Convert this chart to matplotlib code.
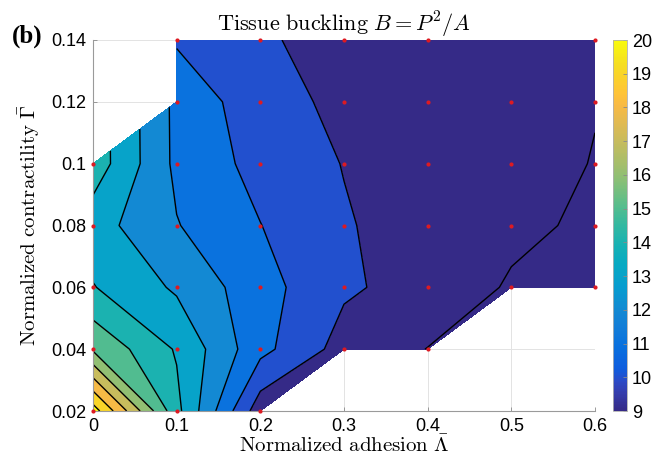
import numpy as np
import matplotlib
matplotlib.use("Agg")
import matplotlib.pyplot as plt
from matplotlib.colors import LinearSegmentedColormap, Normalize
from matplotlib.cm import ScalarMappable

plt.rcParams["mathtext.fontset"] = "cm"

# grid of simulations
adhesion = [0.0, 0.1, 0.2, 0.3, 0.4, 0.5, 0.6]
contractility = [0.02, 0.04, 0.06, 0.08, 0.10, 0.12, 0.14]

# buckling B = P^2/A, one row per contractility value (nan = not simulated)
B_002 = [20.5, 14.29, 9.39, np.nan, np.nan, np.nan, np.nan]
B_004 = [15.85, 13.9, 11.3, 9.6, 8.98, np.nan, np.nan]
B_006 = [14.05, 12.85, 11.38, 10.15, 9.6, 8.9, 8.8]
B_008 = [13.43, 12.05, 11.02, 10.09, 9.5, 9.2, 8.84]
B_010 = [14.59, 11.77, 10.67, 9.965, 9.6, 9.5, 8.95]
B_012 = [np.nan, 11.75, 10.38, 9.78, 9.6, 9.4, 9.05]
B_014 = [np.nan, 10.88, 10.14, 9.6, 9.5, 9.4, 9.2]

# points without a marker
no_marker = [(0.5, 0.14)]

levels = list(range(8, 22))
line_levels = list(range(9, 21))
cbar_ticks = list(range(9, 21))
xticks = [0, 0.1, 0.2, 0.3, 0.4, 0.5, 0.6]
yticks = [0.02, 0.04, 0.06, 0.08, 0.1, 0.12, 0.14]

# parula (approx.)
parula_pts = [
    (0.0, (0.2081, 0.1663, 0.5292)),
    (3/63, (0.2081, 0.2386, 0.6771)),
    (5/63, (0.1707, 0.2919, 0.7792)),
    (7/63, (0.0591, 0.3598, 0.8683)),
    (11/63, (0.0329, 0.4430, 0.8720)),
    (14/63, (0.0723, 0.4887, 0.8467)),
    (17/63, (0.0749, 0.5375, 0.8263)),
    (21/63, (0.0265, 0.6137, 0.8135)),
    (25/63, (0.0267, 0.6642, 0.7607)),
    (28/63, (0.0843, 0.6928, 0.7062)),
    (32/63, (0.2178, 0.7250, 0.6193)),
    (35/63, (0.3482, 0.7424, 0.5473)),
    (39/63, (0.5300, 0.7491, 0.4661)),
    (42/63, (0.6473, 0.7456, 0.4188)),
    (46/63, (0.7858, 0.7356, 0.3633)),
    (49/63, (0.8824, 0.7274, 0.3217)),
    (52/63, (0.9739, 0.7314, 0.2666)),
    (54/63, (0.9990, 0.7653, 0.2164)),
    (56/63, (0.9880, 0.8066, 0.1794)),
    (59/63, (0.9626, 0.8705, 0.1309)),
    (63/63, (0.9763, 0.9831, 0.0538)),
]
parula = LinearSegmentedColormap.from_list("parula", parula_pts)

Z = np.ma.masked_invalid(np.array([B_002, B_004, B_006, B_008, B_010, B_012, B_014]))
X, Y = np.meshgrid(adhesion, contractility)

fig = plt.figure(figsize=(6.6, 4.57), dpi=100)
ax = fig.add_axes([93/660, 1-411/457, 502/660, 371/457])
cax = fig.add_axes([613/660, 1-411/457, 14/660, 371/457])

ax.set_axisbelow(True)
ax.grid(True, color="#e3e3e3", lw=0.7)

# matlab colours each band by its lower level
fill_cols = [parula(np.clip((l - 9) / 11, 0, 1)) for l in levels[:-1]]
ax.contourf(X, Y, Z, levels=levels, colors=fill_cols, corner_mask=True)
ax.contour(X, Y, Z, levels=line_levels, colors="k", linewidths=1.0, corner_mask=True)

px, py = [], []
for i, yv in enumerate(contractility):
    for j, xv in enumerate(adhesion):
        if not Z.mask[i, j] and (xv, yv) not in no_marker:
            px.append(xv)
            py.append(yv)
ax.plot(px, py, "o", ms=3.0, color="#dd1a22", mec="none", clip_on=False, zorder=5)

ax.set_xlim(0, 0.6)
ax.set_ylim(0.02, 0.14)
ax.set_xticks(xticks)
ax.set_xticklabels(["%g" % v for v in xticks])
ax.set_yticks(yticks)
ax.set_yticklabels(["%g" % v for v in yticks])
for s in ["top", "right"]:
    ax.spines[s].set_visible(False)
for s in ["left", "bottom"]:
    ax.spines[s].set_color("#9a9a9a")
    ax.spines[s].set_linewidth(0.8)
ax.tick_params(direction="in", length=3, width=0.6, color="#8a8a8a", labelsize=13, pad=5)
for lab in ax.get_xticklabels() + ax.get_yticklabels():
    lab.set_family("Liberation Sans")

ax.set_xlabel(r"$\mathrm{Normalized\ adhesion}\ \bar{\Lambda}$", fontsize=15, labelpad=0)
ax.set_ylabel(r"$\mathrm{Normalized\ contractility}\ \bar{\Gamma}$", fontsize=15, labelpad=6)
ax.set_title(r"$\mathrm{Tissue\ buckling}\ B = P^2/A$", fontsize=16, pad=5)
fig.text(12/660, 1-36/457, "(b)", family="Liberation Serif", weight="bold", fontsize=18, va="center")

cb = fig.colorbar(ScalarMappable(norm=Normalize(9, 20), cmap=parula), cax=cax, ticks=cbar_ticks)
cb.outline.set_edgecolor("#b0b0b0")
cb.outline.set_linewidth(0.6)
cax.tick_params(direction="in", length=3, width=0.6, color="#8a8a8a", labelsize=13)
for lab in cax.get_yticklabels():
    lab.set_family("Liberation Sans")

fig.savefig("out.png", dpi=100)
